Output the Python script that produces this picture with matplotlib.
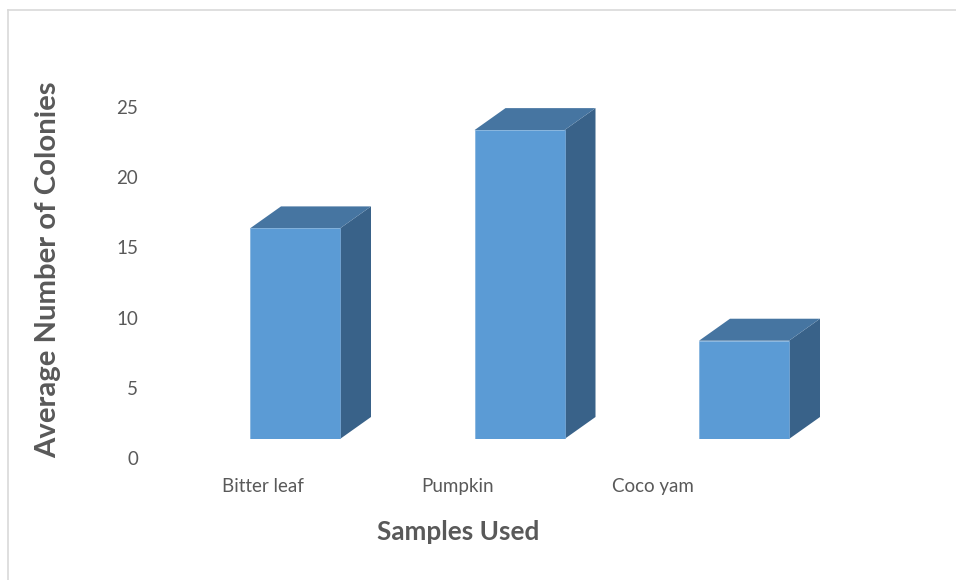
import matplotlib
matplotlib.use("Agg")
import matplotlib.pyplot as plt
from matplotlib.patches import Polygon
from matplotlib.lines import Line2D
from matplotlib.transforms import ScaledTranslation

# ---- data ----
categories = ["Bitter leaf", "Pumpkin", "Coco yam"]
colonies = [15, 22, 7]
y_ticks = [0, 5, 10, 15, 20, 25]
x_title = "Samples Used"
y_title = "Average Number of Colonies"

# ---- styling ----
FRONT = "#5B9BD5"
TOP = "#4675A1"
SIDE = "#396289"
TEXT = "#595959"

plt.rcParams["font.family"] = ["Lato", "DejaVu Sans"]

W, H, DPI = 956, 580, 100
fig = plt.figure(figsize=(W / DPI, H / DPI), dpi=DPI)

# plot area in pixels
left_px, right_px = 146, 879
bottom_px, top_px = 439, 74
first_center_px, cat_step_px = 295, 224.5
px_per_unit = 14.04

ax = fig.add_axes([left_px / W, 1 - bottom_px / H,
                   (right_px - left_px) / W, (bottom_px - top_px) / H])
ax.set_xlim((left_px - first_center_px) / cat_step_px,
            (right_px - first_center_px) / cat_step_px)
ax.set_ylim(0, (bottom_px - top_px) / px_per_unit)

# 3-D depth of the columns, expressed in data units
bar_w = 90 / cat_step_px
dx = 31 / cat_step_px
dy = 22 / px_per_unit

xs = list(range(len(categories)))
for x, v in zip(xs, colonies):
    x0, x1 = x - bar_w / 2, x + bar_w / 2
    side = Polygon([(x1, 0), (x1 + dx, dy), (x1 + dx, v + dy), (x1, v)],
                   closed=True, facecolor=SIDE, edgecolor="none", zorder=2)
    top = Polygon([(x0, v), (x1, v), (x1 + dx, v + dy), (x0 + dx, v + dy)],
                  closed=True, facecolor=TOP, edgecolor="none", zorder=2)
    ax.add_patch(side)
    ax.add_patch(top)
ax.bar(xs, colonies, width=bar_w, color=FRONT, zorder=3,
       edgecolor="#7FB0DD", linewidth=0.5)

for s in ax.spines.values():
    s.set_visible(False)
ax.patch.set_visible(False)

# y ticks
ax.set_yticks(y_ticks)
ax.set_yticklabels([str(t) for t in y_ticks])
ax.tick_params(axis="y", length=0, pad=5.8, labelsize=13.5, labelcolor=TEXT)
for tick in ax.yaxis.get_major_ticks():
    tick.label1.set_transform(tick.label1.get_transform()
                              + ScaledTranslation(0, -19 / DPI, fig.dpi_scale_trans))

# x ticks (labels sit on the receding floor edge)
ax.set_xticks(xs)
ax.set_xticklabels(categories)
ax.tick_params(axis="x", length=0, pad=28, labelsize=13.5, labelcolor=TEXT)
x_shift_px = [-32, -62, -91]
for tick, sh in zip(ax.xaxis.get_major_ticks(), x_shift_px):
    tick.label1.set_transform(tick.label1.get_transform()
                              + ScaledTranslation(sh / DPI, 0, fig.dpi_scale_trans))

# axis titles
ax.set_xlabel(x_title, fontsize=18.8, fontweight="bold", color=TEXT, va="center")
ax.xaxis.set_label_coords((458 - left_px) / (right_px - left_px),
                          (bottom_px - 532) / (bottom_px - top_px))
ax.set_ylabel(y_title, fontsize=21.1, fontweight="bold", color=TEXT, va="center")
ax.yaxis.set_label_coords((48 - left_px) / (right_px - left_px),
                          (bottom_px - 270) / (bottom_px - top_px))

# chart frame (top and left edges)
fig.add_artist(Line2D([7.5 / W, 7.5 / W], [0, 1 - 10 / H],
                      color="#D9D9D9", linewidth=1.2, transform=fig.transFigure))
fig.add_artist(Line2D([7.5 / W, 1], [1 - 10 / H, 1 - 10 / H],
                      color="#D9D9D9", linewidth=1.2, transform=fig.transFigure))

fig.savefig("out.png", dpi=DPI)
